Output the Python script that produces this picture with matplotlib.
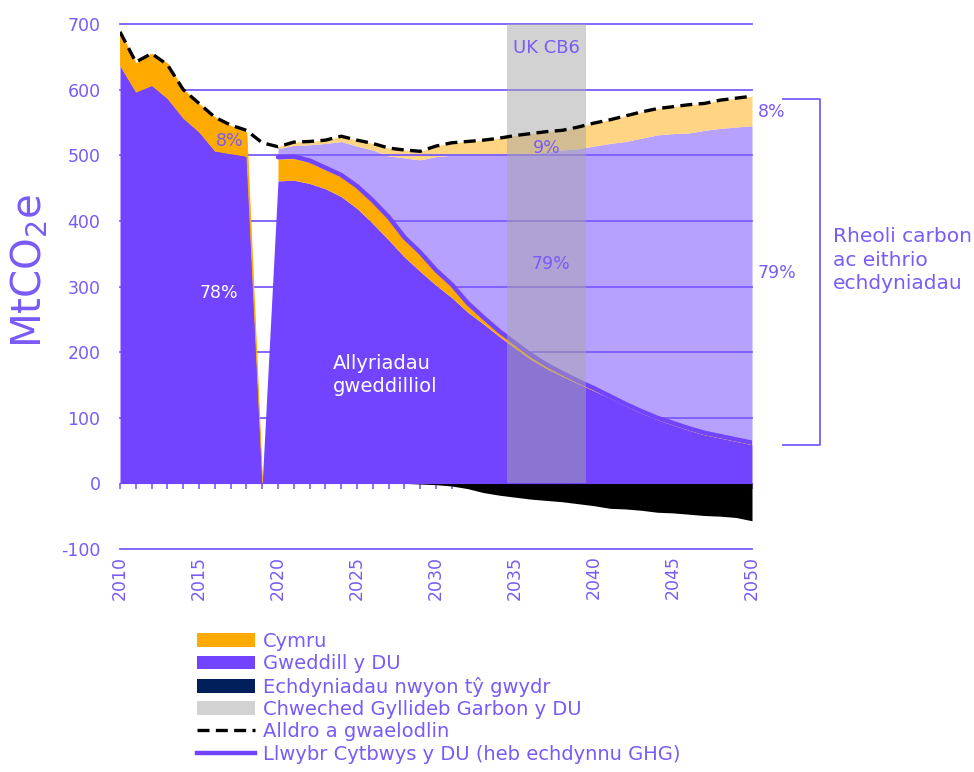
import numpy as np
import matplotlib
matplotlib.use("Agg")
import matplotlib.pyplot as plt
from matplotlib.patches import Patch
from matplotlib.lines import Line2D

plt.rcParams['font.family'] = ['DejaVu Sans']
plt.rcParams['axes.unicode_minus'] = False

years = np.arange(2010, 2051)

# Gweddill y DU - allyriadau (hanesyddol + gweddilliol), 2019 = 0
rest_uk = [637, 597, 607, 587, 557, 536, 507, 503, 499, 0,
           461, 462, 457, 449, 437, 419, 396, 371, 345, 323,
           302, 283, 261, 243, 224, 206, 189, 175, 163, 152,
           141, 130, 118, 107, 97, 89, 81, 74, 69, 64, 59]

# Cymru - allyriadau
wales = [51, 43, 48, 53, 43, 42, 51, 42, 36, 0,
         33, 33, 32, 29, 30, 31, 32, 32, 27, 26,
         20, 17, 11, 7, 6, 5, 5, 4, 4, 3,
         2, 1, 1, 1, 1, 1, 1, 1, 1, 1, 1]

# top of "Gweddill y DU" abatement band (light purple), from 2020
abated_top = [510, 515, 516, 518, 521, 514, 508, 499, 496, 493,
              498, 500, 500, 500, 501, 501, 502, 505, 508, 510,
              514, 518, 521, 526, 531, 533, 534, 538, 541, 543, 545]

# Alldro a gwaelodlin
baseline = [688, 642, 655, 638, 600, 579, 558, 546, 538, 519,
            513, 520, 521, 523, 529, 523, 518, 511, 508, 506,
            514, 519, 521, 523, 526, 530, 533, 536, 538, 543,
            549, 554, 560, 566, 571, 574, 577, 579, 584, 587, 590]

# Llwybr Cytbwys y DU (heb echdynnu GHG), from 2020
pathway = [497, 498, 492, 481, 470, 453, 431, 406, 375, 352,
           325, 303, 275, 253, 232, 214, 196, 181, 168, 156,
           145, 133, 121, 110, 100, 92, 84, 77, 72, 67, 62]

# Echdyniadau nwyon ty gwydr
removals = [0] * 19 + [-1, -2, -4, -8, -14, -18, -21, -24, -26, -28, -31,
                       -34, -38, -39, -41, -44, -45, -47, -49, -50, -52, -57]

cb6_start, cb6_end = 2034.5, 2039.5

PURPLE = '#7244FF'
TXT = '#7A5AF8'
LIGHT_PURPLE = '#B7A1FF'
ORANGE = '#FFAA00'
LIGHT_ORANGE = '#FFD482'
GREY = '#A6A6A6'
NAVY = '#001F5B'

rest_uk = np.array(rest_uk, dtype=float)
wales = np.array(wales, dtype=float)
baseline = np.array(baseline, dtype=float)
removals = np.array(removals, dtype=float)
abated_top = np.array(abated_top, dtype=float)
pathway = np.array(pathway, dtype=float)
proj = years >= 2020
hist = years <= 2019
wales_top = rest_uk + wales

fig = plt.figure(figsize=(9.74, 7.72), dpi=100)
ax = fig.add_axes([120 / 974, 1 - 549 / 772, 632 / 974, 525 / 772])

# light bands (abatement) sit under the gridlines
ax.fill_between(years[proj], wales_top[proj], abated_top, color=LIGHT_PURPLE, lw=0, zorder=1)
ax.fill_between(years[proj], abated_top, baseline[proj], color=LIGHT_ORANGE, lw=0, zorder=1)

for v in range(-100, 701, 100):
    if v != 0:
        ax.axhline(v, color='#7B5CFF', lw=1.3, zorder=1.5, clip_on=False)

ax.fill_between(years, 0, rest_uk, color=PURPLE, lw=0, zorder=2)
ax.fill_between(years[hist], rest_uk[hist], wales_top[hist], color=ORANGE, lw=0.6,
                edgecolor=ORANGE, zorder=2)
ax.fill_between(years[proj], rest_uk[proj], wales_top[proj], color=ORANGE, lw=0, zorder=2)
ax.fill_between(years, 0, removals, color='black', lw=0, zorder=2)

ax.plot(years[proj], pathway, color=PURPLE, lw=3.2, solid_capstyle='round', zorder=3)

ax.axvspan(cb6_start, cb6_end, ymin=100 / 800, ymax=1, color=GREY, alpha=0.5, lw=0, zorder=4)

ax.plot(years, baseline, color='black', lw=2.4, dashes=(3.6, 1.9), zorder=5)

ax.set_xlim(2010, 2050)
ax.set_ylim(-100, 700)
for s in ['top', 'right', 'left']:
    ax.spines[s].set_visible(False)
ax.spines['bottom'].set_position(('data', 0))
ax.spines['bottom'].set_color(PURPLE)
ax.spines['bottom'].set_zorder(6)

ax.set_xticks(range(2010, 2051, 5))
ax.set_xticks(range(2010, 2051), minor=True)
ax.tick_params(axis='x', which='both', direction='out', length=4, width=1.2,
               color='#7B5CFF', labelcolor=TXT, labelsize=12.5, pad=48, labelrotation=90)
ax.set_yticks(range(-100, 701, 100))
ax.tick_params(axis='y', length=0, labelcolor=TXT, labelsize=12.5, pad=14)

ax.set_ylabel('MtCO$_\\mathregular{2}$e', color=TXT, fontsize=29)
ax.yaxis.set_label_coords(-0.11, 0.53)

# annotations
ax.text(2037.0, 663, 'UK CB6', color=TXT, fontsize=13, ha='center', va='center', zorder=7)
ax.text(2016.93, 522, '8%', color=TXT, fontsize=12.5, ha='center', va='center', zorder=7)
ax.text(2016.27, 290, '78%', color='white', fontsize=12.5, ha='center', va='center', zorder=7)
ax.text(2023.47, 165, 'Allyriadau\ngweddilliol', color='white', fontsize=14, ha='left',
        va='center', linespacing=1.3, zorder=7)
ax.text(2037.0, 511, '9%', color=TXT, fontsize=12.5, ha='center', va='center', zorder=7)
ax.text(2037.28, 335, '79%', color=TXT, fontsize=12.5, ha='center', va='center', zorder=7)
ax.text(2050.38, 566, '8%', color=TXT, fontsize=12.5, ha='left', va='center', clip_on=False)
ax.text(2050.38, 320, '79%', color=TXT, fontsize=12.5, ha='left', va='center', clip_on=False)

# bracket
bx0, bx1 = 2051.96, 2054.3
ax.plot([bx0, bx1, bx1, bx0], [586, 586, 58, 58], color='#7B5CFF', lw=1.3, clip_on=False)
ax.text(2055.1, 340, 'Rheoli carbon\nac eithrio\nechdyniadau', color=TXT, fontsize=14.5,
        ha='left', va='center', linespacing=1.3, clip_on=False)

handles = [
    Patch(facecolor=ORANGE, label='Cymru'),
    Patch(facecolor=PURPLE, label='Gweddill y DU'),
    Patch(facecolor=NAVY, label='Echdyniadau nwyon tŷ gwydr'),
    Patch(facecolor=GREY, alpha=0.5, label='Chweched Gyllideb Garbon y DU'),
    Line2D([], [], color='black', lw=2.4, dashes=(3.6, 1.9), label='Alldro a gwaelodlin'),
    Line2D([], [], color=PURPLE, lw=3.2, label='Llwybr Cytbwys y DU (heb echdynnu GHG)'),
]
leg = fig.legend(handles=handles, loc='upper left', bbox_to_anchor=(197 / 974, 1 - 632 / 772),
                 frameon=False, fontsize=14, labelspacing=0.17, handlelength=3.0,
                 handletextpad=0.4, borderpad=0, borderaxespad=0)
for t in leg.get_texts():
    t.set_color(TXT)

fig.savefig('out.png', dpi=100)
